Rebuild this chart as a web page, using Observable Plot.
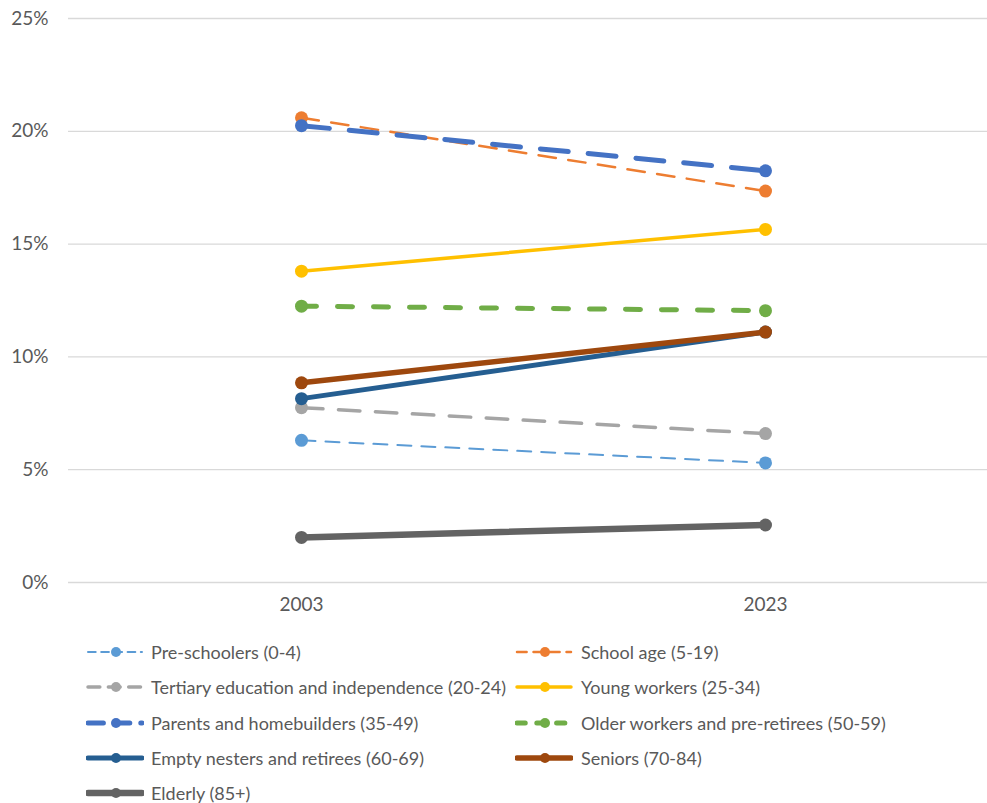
<!DOCTYPE html>
<html><head><meta charset="utf-8">
<script src="https://cdn.jsdelivr.net/npm/d3@7"></script>
<script src="https://cdn.jsdelivr.net/npm/@observablehq/plot@0.6"></script>
<style>
body{margin:0;background:#fff;font-family:Lato,sans-serif;}
#wrap{position:relative;width:987px;height:803px;overflow:hidden;}
#chart{position:absolute;left:0;top:0;}
.item{position:absolute;display:flex;align-items:center;height:26px;font-size:18px;color:#595959;white-space:nowrap;}
.item svg{flex:none;}
</style></head><body><div id="wrap"><div id="chart"></div></div>
<script>
const years = [2003, 2023];
const categories = [
  "Pre-schoolers (0-4)",
  "School age (5-19)",
  "Tertiary education and independence (20-24)",
  "Young workers (25-34)",
  "Parents and homebuilders (35-49)",
  "Older workers and pre-retirees (50-59)",
  "Empty nesters and retirees (60-69)",
  "Seniors (70-84)",
  "Elderly (85+)"
];
const values2003 = [6.3, 20.6, 7.75, 13.8, 20.25, 12.25, 8.15, 8.85, 2.0];
const values2023 = [5.3, 17.35, 6.6, 15.65, 18.25, 12.05, 11.1, 11.1, 2.55];
const yTicks = [0, 5, 10, 15, 20, 25];

const styles = [
  {color: "#5B9BD5", width: 2,   dash: "14,10"},
  {color: "#ED7D31", width: 2.5, dash: "17.5,12.5"},
  {color: "#A5A5A5", width: 3.5, dash: "21.5,15.5"},
  {color: "#FFC000", width: 3.5, dash: null},
  {color: "#4472C4", width: 5,   dash: "28,20"},
  {color: "#70AD47", width: 5,   dash: "15,21"},
  {color: "#255E91", width: 5,   dash: null},
  {color: "#9E480E", width: 5.5, dash: null},
  {color: "#636363", width: 6.5, dash: null}
];

const rows = categories.flatMap((c, i) => [
  {cat: c, i, year: years[0], value: values2003[i]},
  {cat: c, i, year: years[1], value: values2023[i]}
]);

const marks = [Plot.gridY(yTicks, {stroke: "#D9D9D9", strokeOpacity: 1, strokeWidth: 1.3})];
categories.forEach((c, i) => {
  const s = styles[i];
  const d = rows.filter(r => r.i === i);
  marks.push(Plot.line(d, {x: "year", y: "value", stroke: s.color, strokeWidth: s.width,
    strokeDasharray: s.dash, strokeLinecap: "round"}));
  marks.push(Plot.dot(d, {x: "year", y: "value", r: 6.5, fill: s.color, stroke: null}));
});
marks.push(Plot.axisY(yTicks, {tickSize: 0, tickPadding: 20, tickFormat: d => d + "%", fontSize: 19, label: null}));
marks.push(Plot.text(years, {x: d => d, text: d => String(d), frameAnchor: "bottom", dy: 28, fontSize: 19, fill: "#595959"}));

const chart = Plot.plot({
  width: 987,
  height: 630,
  marginLeft: 68,
  marginRight: 0,
  marginTop: 18,
  marginBottom: 48,
  style: {color: "#595959", fontFamily: "Lato, sans-serif", fontSize: "19px", background: "white"},
  x: {type: "point", domain: years, range: [68, 997], padding: 0.5, axis: null},
  y: {domain: [0, 25], axis: null, label: null},
  marks
});
document.getElementById("chart").appendChild(chart);

// Legend
const wrap = document.getElementById("wrap");
const colX = [86, 515];
categories.forEach((c, i) => {
  const s = styles[i];
  const row = Math.floor(i / 2), col = i % 2;
  const item = document.createElement("div");
  item.className = "item";
  item.style.left = colX[col] + "px";
  item.style.top = (652 + row * 35.3 - 13) + "px";
  const sw = d3.create("svg").attr("width", 58).attr("height", 26);
  sw.append("line").attr("x1", 2).attr("x2", 56).attr("y1", 13).attr("y2", 13)
    .attr("stroke", s.color).attr("stroke-width", s.width).attr("stroke-linecap", "round")
    .attr("stroke-dasharray", s.dash ? s.dash.split(",").map(v => +v * 0.55).join(",") : null);
  sw.append("circle").attr("cx", 30).attr("cy", 13).attr("r", 5).attr("fill", s.color);
  item.appendChild(sw.node());
  const t = document.createElement("span");
  t.textContent = c;
  t.style.marginLeft = (col === 0 ? 7 : 8) + "px";
  item.appendChild(t);
  wrap.appendChild(item);
});
</script></body></html>
